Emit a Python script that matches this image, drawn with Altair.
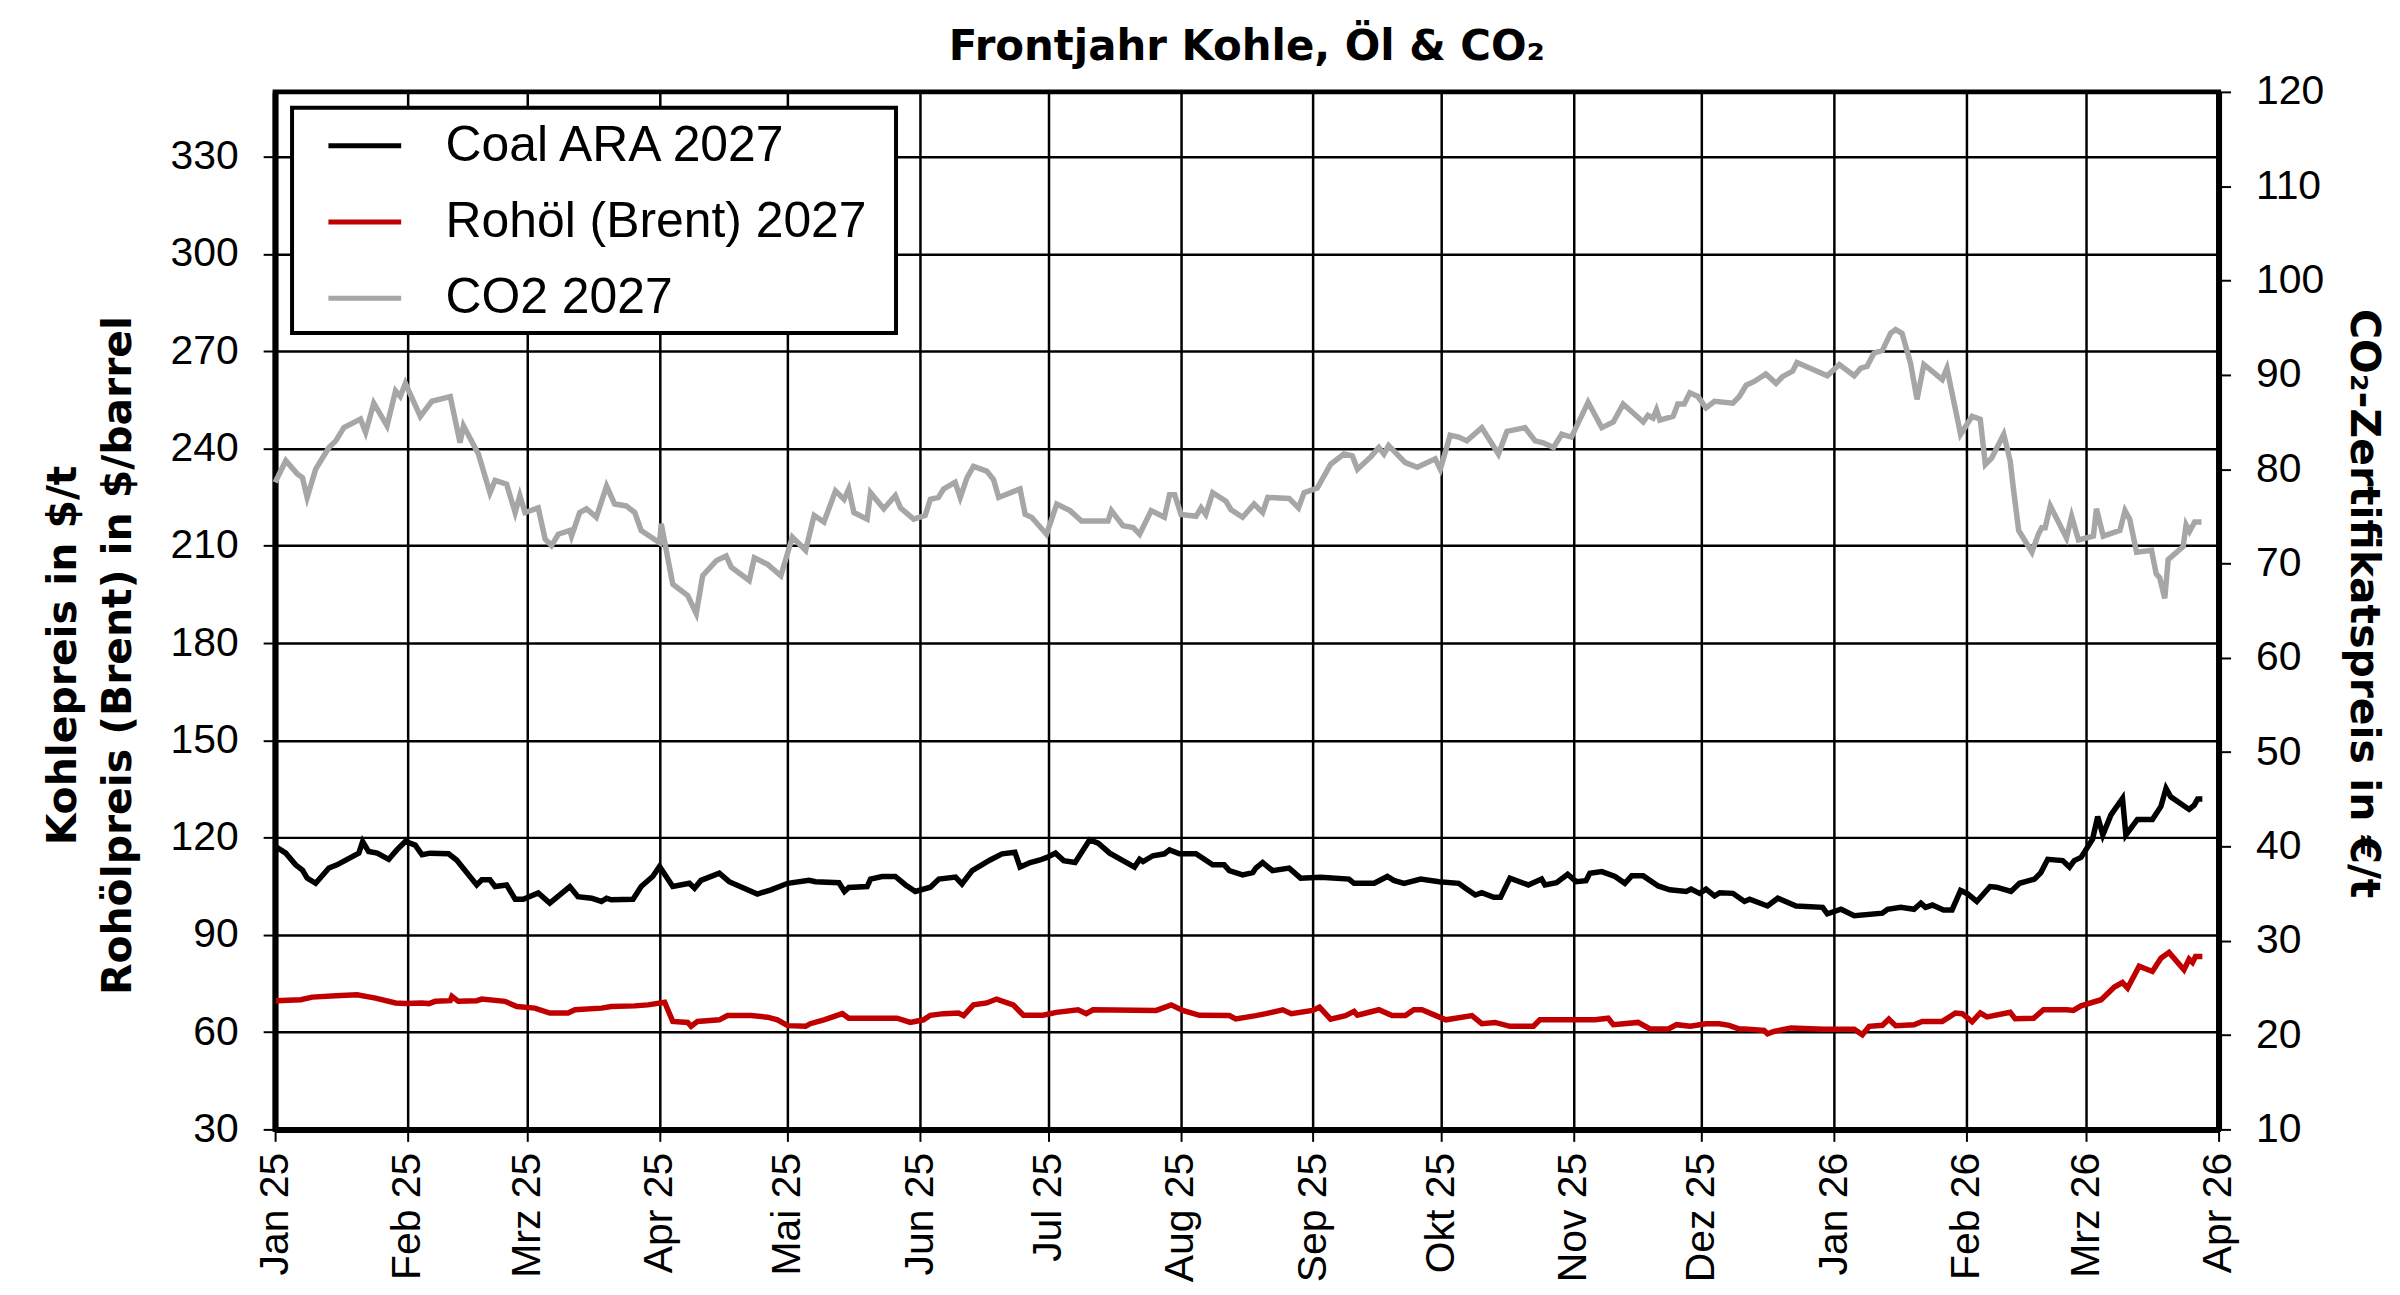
import altair as alt
import pandas as pd

# ---- data (day offset from 2025-01-01, value) ----
coal_days = [0.2, 2.5, 4.8, 6.4, 7.5, 9.5, 12.6, 14.5, 17.3, 19.6, 20.5, 21.9, 23.9, 26.6, 28.5, 30.5, 32.8, 34.4, 36.3, 40.6,
             42.5, 47.2, 48.4, 50.3, 51.5, 54.2, 56.2, 58.1, 61.6, 64.3, 69, 70.9, 74.1, 76.4, 77.6, 78.7, 83.8, 85.7, 88.4, 90,
             93.1, 97, 98.2, 99.7, 104, 106.3, 110.6, 112.9, 116.1, 120, 125, 126.5, 132, 133.3, 134.3, 138.6, 139.4, 142.1, 145.2, 147.6,
             149.9, 153.4, 155.4, 159.3, 160.8, 163.2, 167.4, 170.2, 173.2, 174.4, 176.8, 179.1, 180.7, 182.7, 184.6, 187.3, 190.7, 192.7, 195.4, 198.5,
             201.2, 202.4, 203.2, 205.5, 208.2, 209.4, 211.7, 215.6, 219.5, 222.2, 223.4, 226.5, 228.9, 229.6, 231.2, 233.5, 237.4, 240.1, 244.8, 251.4,
             252.6, 257.3, 260.4, 261.9, 264.3, 268.2, 272.5, 277.1, 278.7, 281, 282.5, 285.3, 286.9, 289.1, 293.4, 296.5, 297.3, 300, 302.6, 304.6,
             306.9, 307.8, 310.6, 313.7, 316, 317.6, 320.3, 323.8, 326.5, 330.4, 331.5, 333.5, 335, 337, 338.2, 341.3, 344, 345.2, 349.4, 351.8,
             356.1, 362.3, 363.4, 366.6, 369.7, 376.3, 377.5, 380.6, 383.7, 385.3, 386.4, 388, 390.6, 392.6, 394.6, 396.2, 398.4, 401.5, 403, 406.4,
             408.4, 411.9, 413.4, 415, 418.5, 420.1, 421.2, 422.8, 425.5, 426.7, 427.9, 429.8, 432.5, 433.3, 436, 439.5, 441.5, 442.7, 443.8, 448.1,
             449.3, 450.1, 451.2]
coal_vals = [117.2, 115.2, 111.6, 110.0, 107.5, 105.9, 110.6, 111.6, 113.6, 115.2, 118.8, 115.7, 115.2, 113.3, 116.2, 118.8, 117.7, 114.7, 115.2, 115.0,
             113.1, 105.4, 107.0, 107.0, 104.9, 105.4, 101.0, 101.0, 102.9, 99.8, 104.9, 101.8, 101.3, 100.3, 101.3, 100.8, 101.0, 104.9, 108.0, 111.1,
             104.9, 105.9, 104.4, 106.8, 109.0, 106.4, 103.9, 102.6, 103.9, 105.9, 106.8, 106.4, 106.1, 103.4, 104.6, 104.9, 107.2, 108.0, 108.0, 105.4,
             103.4, 104.7, 107.2, 107.8, 105.7, 109.8, 113.1, 115.0, 115.5, 110.9, 112.3, 113.1, 113.9, 115.2, 112.9, 112.3, 119.3, 118.3, 115.2, 112.9,
             110.9, 113.3, 112.6, 114.4, 115.0, 116.2, 115.0, 115.0, 111.6, 111.6, 109.8, 108.5, 109.2, 110.6, 112.3, 109.8, 110.6, 107.5, 107.8, 107.2,
             105.9, 105.9, 108.0, 106.8, 105.9, 107.2, 106.4, 105.9, 104.4, 102.3, 103.0, 101.6, 101.6, 107.5, 105.4, 107.2, 105.4, 106.1, 108.7, 106.4,
             106.7, 109.0, 109.5, 108.0, 105.9, 108.2, 108.2, 105.1, 103.9, 103.4, 104.1, 102.8, 104.1, 102.0, 103.0, 102.8, 100.3, 101.0, 98.9, 101.3,
             98.9, 98.5, 96.5, 97.9, 95.9, 96.7, 97.9, 98.5, 97.9, 99.8, 98.5, 99.2, 97.7, 97.7, 103.7, 102.7, 100.3, 104.9, 104.7, 103.4,
             105.9, 107.2, 109.2, 113.3, 112.9, 110.9, 112.9, 113.9, 119.5, 126.5, 120.8, 127.0, 132.1, 120.8, 125.6, 125.6, 129.6, 135.2, 132.6, 128.7,
             130.0, 131.9, 131.9]

oil_days = [0.2, 6, 8.7, 14.2, 19.2, 23.5, 28.2, 30.5, 34.4, 36, 37.5, 41, 41.4, 42.9, 47.2, 48.4, 53.8, 56.6, 60.8, 64.3,
            68.6, 70.2, 76.4, 78.7, 84.2, 87.3, 91.2, 93.1, 96.6, 97.4, 98.9, 104, 105.9, 111.4, 115.3, 117.6, 120, 124.2, 125.3, 128.5,
            132.8, 134.3, 145.6, 148.7, 151.8, 153.4, 156.5, 160, 161.2, 163.5, 166.6, 168.9, 172.8, 175.2, 179.8, 182.9, 188, 189.9, 191.5, 206.3,
            209.8, 212.5, 216.4, 223.4, 224.9, 229.6, 232, 235.9, 237.9, 242.9, 244.5, 247.1, 250.6, 252.6, 253.4, 258.4, 261.5, 264.6, 266.6, 268.5,
            271.2, 274.1, 280.2, 282.5, 285.6, 289.1, 294.6, 296.1, 309, 312.1, 313.3, 319.1, 321.9, 326.2, 328.1, 331.3, 335, 338.1, 340.4, 342.7,
            344, 348.6, 349.4, 350.9, 354.9, 362.6, 369.7, 371.6, 373.2, 376.3, 377.8, 379.4, 383.7, 385.6, 390.3, 393.4, 395, 397.3, 399.2, 400.8,
            406.2, 407.4, 411.7, 414, 419.5, 421, 422.8, 427.5, 430.6, 432.5, 433.7, 436.4, 439.5, 441.5, 443.4, 446.9, 448.1, 448.9, 449.6, 451.2]
oil_vals = [69.7, 70.0, 70.8, 71.2, 71.5, 70.5, 69.0, 68.8, 69.0, 68.8, 69.5, 69.7, 71.0, 69.5, 69.7, 70.2, 69.5, 67.9, 67.4, 65.9,
            65.9, 66.9, 67.4, 67.9, 68.1, 68.4, 69.2, 63.3, 63.0, 61.8, 63.3, 63.8, 65.1, 65.1, 64.6, 63.8, 62.0, 61.8, 62.6, 63.8,
            65.7, 64.3, 64.3, 63.0, 63.8, 65.2, 65.7, 65.9, 65.1, 68.4, 69.0, 70.2, 68.4, 65.2, 65.2, 66.1, 66.9, 65.7, 66.9, 66.7,
            68.4, 66.7, 65.2, 65.1, 64.1, 65.1, 65.7, 66.9, 65.7, 66.7, 67.7, 64.0, 65.1, 66.4, 65.2, 66.9, 65.1, 65.1, 66.9, 66.9,
            65.4, 63.8, 65.1, 62.6, 63.0, 61.8, 61.8, 63.8, 63.8, 64.3, 62.3, 63.0, 61.0, 61.0, 62.3, 61.8, 62.6, 62.6, 62.1, 61.0,
            61.0, 60.5, 59.5, 60.2, 61.3, 60.9, 60.9, 59.2, 61.8, 62.1, 64.0, 62.0, 62.3, 63.3, 63.3, 65.9, 65.7, 63.2, 65.9, 64.7,
            66.1, 64.1, 64.3, 66.9, 66.9, 66.7, 68.1, 70.0, 73.9, 75.3, 73.6, 80.3, 78.7, 82.8, 84.6, 79.2, 82.5, 81.5, 83.3, 83.3]

co2_days = [0, 2.5, 5.2, 6.4, 7.5, 9.5, 12.6, 14.2, 16.1, 20, 21.2, 23.1, 26.2, 28.2, 29.3, 30.5, 34, 36.7, 41, 43.3,
            44.1, 47.6, 50.3, 51.5, 54.2, 56.2, 57.3, 58.5, 61.6, 63.2, 64.7, 66.3, 69, 69.4, 71.3, 72.9, 75.2, 77.6, 79.5, 82.2,
            84.2, 85.7, 90, 90.4, 93.1, 96.6, 98.6, 100.1, 103.3, 105.6, 106.8, 111, 112.2, 115.3, 118.4, 121.1, 124.2, 126.2, 128.5, 131.2,
            133.2, 134.3, 135.5, 138.6, 139.4, 142.5, 145.2, 146.4, 149.5, 152.2, 153.4, 155.3, 156.5, 159.2, 160.4, 162, 163.5, 166.6, 168.2, 169.4,
            174.4, 175.6, 177.1, 180.6, 183, 186.1, 188.8, 195, 195.8, 198.5, 200.9, 202.4, 205.1, 208.2, 209.4, 210.6, 212.1, 215.6, 216.8, 217.9,
            219.5, 222.6, 223.8, 226.5, 229.2, 231.2, 232.4, 237.4, 239.6, 240.9, 244, 247.1, 250.2, 252.2, 253.4, 256.5, 258.4, 259.6, 260.7, 264.6,
            267.4, 271.6, 272.8, 275.1, 277.1, 279, 282.5, 286.4, 288.4, 292.6, 295, 296.9, 299.3, 301.2, 303.5, 307.4, 310.6, 313.3, 315.6, 320.3,
            321.4, 322.6, 323.4, 324.2, 327.3, 328.4, 329.9, 331.2, 333.1, 335, 337, 341.3, 342.8, 344.4, 346.3, 349, 351.4, 352.9, 355.3, 356.3,
            363.4, 366.2, 369.7, 371.2, 372.7, 374.3, 376.3, 378.2, 379.4, 380.9, 382.9, 384.4, 386, 390.3, 391.4, 394.6, 397.3, 399.2, 400.4, 401.9,
            404.7, 406.2, 407, 408.2, 411.3, 412.8, 413.6, 414.4, 415.6, 419.4, 420.6, 422.2, 425.7, 426.4, 428, 431.9, 433.1, 434.2, 435.8, 439.3,
            440.4, 441.2, 442.4, 443.2, 446.7, 447.4, 448.2, 449.4, 451]
co2_vals = [78.6, 80.9, 79.5, 79.1, 77.0, 80.0, 82.3, 83.0, 84.4, 85.3, 83.9, 87.0, 84.6, 88.3, 87.7, 89.1, 85.6, 87.2, 87.7, 82.8,
            84.6, 81.6, 77.5, 78.8, 78.4, 75.4, 77.2, 75.4, 75.9, 72.6, 71.9, 73.1, 73.5, 72.9, 75.4, 75.8, 74.9, 78.2, 76.3, 76.1,
            75.4, 73.5, 72.2, 74.2, 67.8, 66.6, 64.7, 68.7, 70.3, 70.8, 69.6, 68.2, 70.6, 69.9, 68.7, 72.8, 71.4, 75.1, 74.4, 77.7,
            76.8, 77.9, 75.4, 74.7, 77.5, 75.8, 77.2, 75.9, 74.7, 75.1, 76.8, 77.0, 77.9, 78.6, 77.0, 79.1, 80.3, 79.8, 78.9, 77.0,
            77.9, 75.2, 74.9, 73.1, 76.3, 75.6, 74.5, 74.5, 75.6, 74.0, 73.8, 73.1, 75.6, 74.9, 77.3, 77.3, 75.2, 75.0, 75.9, 75.2,
            77.5, 76.6, 75.7, 74.9, 76.3, 75.4, 77.0, 76.9, 75.9, 77.5, 78.0, 80.5, 81.6, 81.4, 80.0, 81.3, 82.3, 81.6, 82.5, 80.7,
            80.2, 81.1, 80.0, 83.6, 83.4, 83.0, 84.4, 81.6, 84.0, 84.4, 83.0, 82.8, 82.3, 83.7, 83.4, 87.1, 84.4, 85.0, 86.9, 85.0,
            85.7, 85.4, 86.3, 85.2, 85.6, 86.9, 86.9, 88.1, 87.7, 86.5, 87.2, 87.0, 87.7, 88.9, 89.3, 90.1, 89.1, 89.8, 90.4, 91.3,
            89.9, 91.1, 89.9, 90.7, 90.9, 92.3, 92.6, 94.4, 94.8, 94.4, 91.2, 87.4, 91.1, 89.5, 90.7, 83.7, 85.6, 85.3, 80.5, 81.2,
            83.7, 80.9, 77.8, 73.5, 71.2, 73.1, 73.8, 73.8, 76.1, 72.7, 75.0, 72.5, 72.9, 75.8, 72.9, 73.5, 75.6, 74.7, 71.2, 71.4,
            68.9, 68.5, 66.3, 70.4, 71.8, 74.1, 73.4, 74.4, 74.4]

series_names = ["Coal ARA 2027", "Rohöl (Brent) 2027", "CO2 2027"]
series_colors = ["#000000", "#C00000", "#A6A6A6"]
month_labels = ["Jan", "Feb", "Mrz", "Apr", "Mai", "Jun", "Jul", "Aug", "Sep", "Okt", "Nov", "Dez"]
left_ticks = [30, 60, 90, 120, 150, 180, 210, 240, 270, 300, 330]
right_ticks = [10, 20, 30, 40, 50, 60, 70, 80, 90, 100, 110, 120]

start = pd.Timestamp("2025-01-01")


def frame(days, vals, name):
    return pd.DataFrame({
        "date": start + pd.to_timedelta(days, unit="D"),
        "value": vals,
        "series": name,
    })


df = pd.concat([
    frame(coal_days, coal_vals, series_names[0]),
    frame(oil_days, oil_vals, series_names[1]),
    frame(co2_days, co2_vals, series_names[2]),
], ignore_index=True)

month_ticks = []
for i in range(16):
    y = 2025 + (i // 12)
    m = (i % 12) + 1
    month_ticks.append(alt.DateTime(year=y, month=m, date=1))

label_expr = "[" + ",".join("'%s'" % m for m in month_labels) + "][month(datum.value)] + ' ' + timeFormat(datum.value, '%y')"

LABEL_FONT = "Liberation Sans"
TITLE_FONT = "DejaVu Sans"
GRID_W = 2.5

x_enc = alt.X(
    "date:T",
    scale=alt.Scale(domain=[alt.DateTime(year=2025, month=1, date=1),
                            alt.DateTime(year=2026, month=4, date=1)]),
    axis=alt.Axis(
        values=month_ticks, labelExpr=label_expr, title=None,
        labelAngle=270, labelAlign="right", labelBaseline="middle",
        labelPadding=11, labelFlush=False, labelOverlap=False,
        labelFont=LABEL_FONT, labelFontSize=41, labelColor="black",
        grid=True, gridColor="black", gridWidth=GRID_W, gridOpacity=1,
        domainColor="black", domainWidth=6,
        tickColor="black", tickWidth=2, tickSize=12,
    ),
)

color_enc = alt.Color(
    "series:N",
    scale=alt.Scale(domain=series_names, range=series_colors),
    legend=alt.Legend(
        title=None, orient="none", legendX=51, legendY=15, direction="vertical",
        symbolType="stroke", symbolSize=5329, symbolStrokeWidth=5,
        labelFont=LABEL_FONT, labelFontSize=50, labelColor="black",
        labelOffset=42, labelLimit=1000,
        padding=0, rowPadding=12.5,
    ),
)

base = alt.Chart(df)

# legend frame (white box with black border behind the legend entries)
legend_box = alt.Chart(pd.DataFrame({"box": [0]})).mark_rect(
    fill="white", stroke="black", strokeWidth=4
).encode(
    x=alt.value(17), x2=alt.value(623), y=alt.value(16), y2=alt.value(242)
)

left = base.transform_filter(
    alt.FieldOneOfPredicate(field="series", oneOf=series_names[:2])
).mark_line(strokeWidth=5.5).encode(
    x=x_enc,
    y=alt.Y(
        "value:Q",
        scale=alt.Scale(domain=[30, 350], nice=False, zero=False),
        axis=alt.Axis(
            values=left_ticks, orient="left",
            title=["Kohlepreis in $/t", "Rohölpreis (Brent) in $/barrel"],
            titleFont=TITLE_FONT, titleFontSize=41, titleFontWeight="bold", titleColor="black",
            titleAngle=270, titleAlign="center", titleBaseline="middle",
            titleX=-212, titleY=565, titleLineHeight=55,
            labelFont=LABEL_FONT, labelFontSize=41, labelColor="black",
            labelPadding=25, labelOverlap=False, labelFlush=False,
            grid=True, gridColor="black", gridWidth=GRID_W, gridOpacity=1,
            domainColor="black", domainWidth=6,
            tickColor="black", tickWidth=2, tickSize=12,
        ),
    ),
    color=color_enc,
)

right = base.transform_filter(
    alt.FieldEqualPredicate(field="series", equal=series_names[2])
).mark_line(strokeWidth=5.5).encode(
    x=x_enc,
    y=alt.Y(
        "value:Q",
        scale=alt.Scale(domain=[10, 120], nice=False, zero=False),
        axis=alt.Axis(
            values=right_ticks, orient="right",
            title="CO₂-Zertifikatspreis in €/t",
            titleFont=TITLE_FONT, titleFontSize=41, titleFontWeight="bold", titleColor="black",
            titleAngle=90, titleAlign="center", titleBaseline="middle",
            titleX=144, titleY=513,
            labelFont=LABEL_FONT, labelFontSize=41, labelColor="black",
            labelPadding=25, labelOverlap=False, labelFlush=False,
            grid=False,
            domainColor="black", domainWidth=6,
            tickColor="black", tickWidth=2, tickSize=12,
        ),
    ),
    color=color_enc,
)

chart = alt.layer(left, right, legend_box).resolve_scale(
    y="independent"
).properties(
    width=1950,
    height=1041,
    background="white",
    autosize=alt.AutoSizeParams(type="none"),
    padding={"left": 268, "top": 82, "right": 174, "bottom": 164},
    title=alt.Title(
        "Frontjahr Kohle, Öl & CO₂",
        font=TITLE_FONT, fontSize=42, fontWeight="bold", color="black",
        anchor="middle", frame="group", offset=2,
    ),
).configure_view(
    stroke="black", strokeWidth=5
)

chart.save("out.html", embed_options={"renderer": "svg", "actions": False})
